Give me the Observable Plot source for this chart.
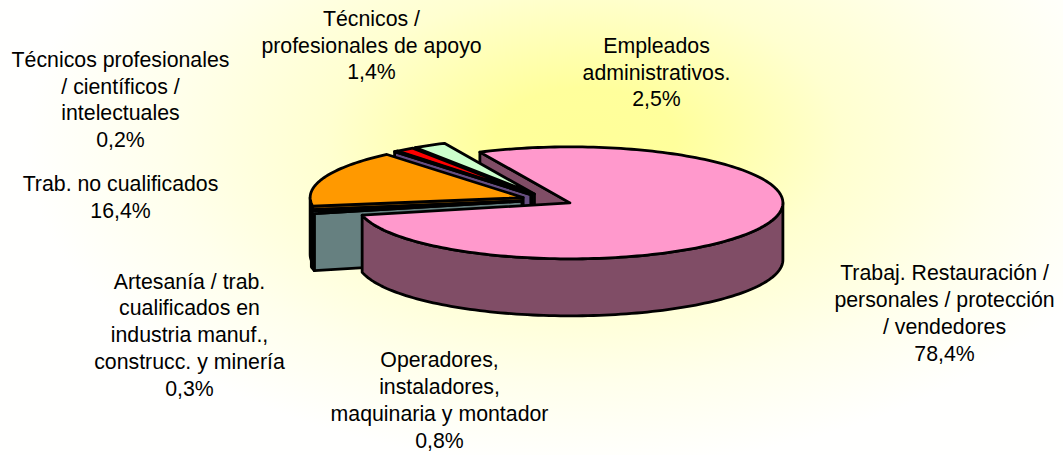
<!DOCTYPE html>
<html><head><meta charset="utf-8">
<script src="https://cdn.jsdelivr.net/npm/d3@7"></script>
<script src="https://cdn.jsdelivr.net/npm/@observablehq/plot@0.6"></script>
<style>html,body{margin:0;padding:0;background:#fff}#c{width:1063px;height:455px;overflow:hidden}svg{display:block}</style>
</head><body><div id="c"></div>
<script>
const categories = ["Trabaj. Restauración / personales / protección / vendedores","Operadores, instaladores, maquinaria y montador","Artesanía / trab. cualificados en industria manuf., construcc. y minería","Trab. no cualificados","Técnicos profesionales / científicos / intelectuales","Técnicos / profesionales de apoyo","Empleados administrativos."];
const values = [78.4,0.8,0.3,16.4,0.2,1.4,2.5];
const labelText = [
 "Trabaj. Restauración /\npersonales / protección\n/ vendedores\n78,4%",
 "Operadores,\ninstaladores,\nmaquinaria y montador\n0,8%",
 "Artesanía / trab.\ncualificados en\nindustria manuf.,\nconstrucc. y minería\n0,3%",
 "Trab. no cualificados\n16,4%",
 "Técnicos profesionales\n/ científicos /\nintelectuales\n0,2%",
 "Técnicos /\nprofesionales de apoyo\n1,4%",
 "Empleados\nadministrativos.\n2,5%"];
const topColors = ["#FF99CC","#CCFFFF","#FFFFCC","#FF9900","#CC99FF","#FF0000","#CCFFCC"];
const wallColors = ["#804D66","#668080","#808066","#804D00","#664D80","#800000","#668066"];
// layout
const W=1063,H=455,CX=546.5,CY=199.4,RX=213,RY=56,DEPTH=57/56,EXPLODE=25.5/213,FIRST=335;
const labelCX=[944,439,189,120,120,371,656], labelCY=[311.5,398.5,333,195.5,98,43.5,70.5];
const sx=v=>(v-CX)/RX, sy=v=>(v-CY)/RY;
const rad=d=>d*Math.PI/180;
let acc=FIRST;
const slices=values.map((v,i)=>{const a=acc,b=acc+v*3.6;acc=b;const m=rad((a+b)/2);
 return{i,a,b,px:EXPLODE*Math.sin(m),py:-EXPLODE*Math.cos(m)};});
const polys=[];let pid=0;
function addPoly(pts,fill){const id=pid++;[...pts,pts[0]].forEach(p=>polys.push({x:p[0],y:p[1],id,fill}));}
const rim=(s,t,d=0)=>[s.px+Math.sin(rad(t)),s.py-Math.cos(rad(t))+d];
function arc(s,a,b,d=0){const n=Math.max(2,Math.ceil((b-a)/1.5)+1);return d3.range(n).map(k=>rim(s,a+(b-a)*k/(n-1),d));}
function startFace(s){addPoly([[s.px,s.py],[s.px,s.py+DEPTH],rim(s,s.a,DEPTH),rim(s,s.a)],wallColors[s.i]);}
function wallFace(s){ // visible outer wall between 90 and 270 deg (mod 360)
 for(const off of [0,360,-360]){const a=Math.max(s.a,90+off),b=Math.min(s.b,270+off);
  if(b>a)addPoly([...arc(s,a,b),...arc(s,a,b,DEPTH).reverse()],wallColors[s.i]);}
}
function topFace(s){addPoly([[s.px,s.py],...arc(s,s.a,s.b)],topColors[s.i]);}
startFace(slices[0]);
[6,5,4,3,2,1].forEach(i=>{const s=slices[i];startFace(s);wallFace(s);topFace(s);});
wallFace(slices[0]);topFace(slices[0]);
const labels=labelText.map((t,i)=>({t,x:sx(labelCX[i]),y:sy(labelCY[i])}));
const chart=Plot.plot({width:W,height:H,margin:0,
 x:{domain:[sx(0),sx(W)],range:[0,W],axis:null},
 y:{domain:[sy(0),sy(H)],range:[0,H],axis:null},
 color:{type:"identity"},
 style:{background:"radial-gradient(ellipse 560px 326px at 585px 140px,#FFFF99 0%,#FFFF9C 16%,#FFFFD0 46%,#FFFFEC 75%,#FFFFFE 100%)",overflow:"visible"},
 marks:[
  Plot.line(polys,{x:"x",y:"y",z:"id",fill:"fill",stroke:"#000",strokeWidth:2.8,strokeLinejoin:"round"}),
  Plot.text(labels,{x:"x",y:"y",text:"t",fontSize:21.3,fontFamily:"'Liberation Sans',Arial,sans-serif",fill:"#000",lineHeight:1.255,textAnchor:"middle",lineAnchor:"middle"})
 ]});
document.getElementById("c").append(chart);
</script></body></html>
